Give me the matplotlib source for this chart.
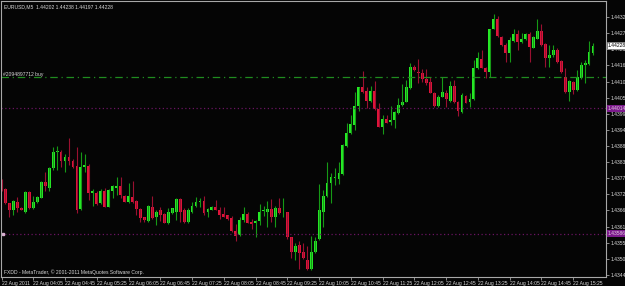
import matplotlib.pyplot as plt
import matplotlib.transforms as mtransforms
import numpy as np
import pandas as pd

symbol = "EURUSD,M5"
opens = [1.43766, 1.43737, 1.43690, 1.43667, 1.43695, 1.43675, 1.43661, 1.43727, 1.43673, 1.43693,
         1.43709, 1.43761, 1.43743, 1.43809, 1.43866, 1.43866, 1.43835, 1.43849, 1.43835, 1.43818,
         1.43669, 1.43815, 1.43818, 1.43726, 1.43726, 1.43690, 1.43730, 1.43678, 1.43730, 1.43743,
         1.43749, 1.43716, 1.43695, 1.43710, 1.43698, 1.43669, 1.43642, 1.43629, 1.43676, 1.43642,
         1.43665, 1.43653, 1.43621, 1.43656, 1.43661, 1.43705, 1.43665, 1.43627, 1.43661, 1.43682,
         1.43694, 1.43698, 1.43659, 1.43667, 1.43676, 1.43667, 1.43653, 1.43648, 1.43641, 1.43595,
         1.43582, 1.43631, 1.43652, 1.43627, 1.43621, 1.43629, 1.43662, 1.43659, 1.43670, 1.43642,
         1.43672, 1.43659, 1.43659, 1.43574, 1.43525, 1.43548, 1.43523, 1.43496, 1.43466, 1.43525,
         1.43568, 1.43661, 1.43715, 1.43758, 1.43777, 1.43773, 1.43790, 1.43886, 1.43929, 1.43957,
         1.44022, 1.44086, 1.44074, 1.44039, 1.44073, 1.44012, 1.43951, 1.43978, 1.43966, 1.43974,
         1.43997, 1.44025, 1.44036, 1.44082, 1.44156, 1.44138, 1.44133, 1.44114, 1.44105, 1.44067,
         1.44023, 1.44053, 1.44067, 1.44040, 1.44090, 1.44036, 1.44002, 1.44056, 1.44034, 1.44044,
         1.44150, 1.44182, 1.44153, 1.44139, 1.44286, 1.44318, 1.44258, 1.44230, 1.44201, 1.44244,
         1.44269, 1.44239, 1.44250, 1.44267, 1.44221, 1.44252, 1.44278, 1.44233, 1.44184, 1.44196,
         1.44213, 1.44175, 1.44122, 1.44070, 1.44105, 1.44076, 1.44116, 1.44161, 1.44165, 1.44202]
highs = [1.43772, 1.43741, 1.43692, 1.43701, 1.43710, 1.43678, 1.43730, 1.43730, 1.43715, 1.43715,
         1.43767, 1.43798, 1.43815, 1.43883, 1.43885, 1.43872, 1.43857, 1.43911, 1.43840, 1.43883,
         1.43864, 1.43857, 1.43823, 1.43739, 1.43730, 1.43737, 1.43741, 1.43737, 1.43752, 1.43781,
         1.43781, 1.43718, 1.43760, 1.43766, 1.43701, 1.43673, 1.43644, 1.43684, 1.43715, 1.43665,
         1.43676, 1.43656, 1.43673, 1.43675, 1.43707, 1.43707, 1.43673, 1.43673, 1.43695, 1.43712,
         1.43707, 1.43715, 1.43673, 1.43681, 1.43701, 1.43676, 1.43676, 1.43650, 1.43647, 1.43618,
         1.43642, 1.43676, 1.43661, 1.43636, 1.43633, 1.43687, 1.43682, 1.43698, 1.43705, 1.43681,
         1.43707, 1.43707, 1.43661, 1.43576, 1.43553, 1.43562, 1.43553, 1.43544, 1.43579, 1.43576,
         1.43755, 1.43735, 1.43832, 1.43792, 1.43809, 1.43832, 1.43891, 1.43963, 1.43991, 1.44071,
         1.44088, 1.44142, 1.44088, 1.44090, 1.44108, 1.44033, 1.43991, 1.43991, 1.44023, 1.44003,
         1.44048, 1.44097, 1.44110, 1.44167, 1.44161, 1.44181, 1.44147, 1.44147, 1.44122, 1.44070,
         1.44059, 1.44119, 1.44076, 1.44108, 1.44110, 1.44040, 1.44065, 1.44059, 1.44067, 1.44178,
         1.44207, 1.44213, 1.44156, 1.44286, 1.44335, 1.44329, 1.44260, 1.44235, 1.44258, 1.44286,
         1.44281, 1.44272, 1.44272, 1.44275, 1.44260, 1.44317, 1.44301, 1.44235, 1.44230, 1.44230,
         1.44218, 1.44178, 1.44150, 1.44112, 1.44108, 1.44144, 1.44173, 1.44178, 1.44243, 1.44238]
lows = [1.43733, 1.43686, 1.43644, 1.43650, 1.43661, 1.43665, 1.43658, 1.43669, 1.43669, 1.43690,
        1.43706, 1.43730, 1.43730, 1.43803, 1.43803, 1.43815, 1.43798, 1.43820, 1.43809, 1.43656,
        1.43667, 1.43798, 1.43701, 1.43681, 1.43684, 1.43687, 1.43676, 1.43676, 1.43707, 1.43718,
        1.43707, 1.43693, 1.43690, 1.43692, 1.43650, 1.43627, 1.43627, 1.43627, 1.43636, 1.43616,
        1.43629, 1.43621, 1.43619, 1.43653, 1.43633, 1.43627, 1.43624, 1.43624, 1.43658, 1.43678,
        1.43676, 1.43650, 1.43644, 1.43665, 1.43665, 1.43636, 1.43642, 1.43633, 1.43593, 1.43562,
        1.43578, 1.43627, 1.43621, 1.43601, 1.43574, 1.43616, 1.43647, 1.43608, 1.43627, 1.43610,
        1.43653, 1.43644, 1.43568, 1.43504, 1.43496, 1.43465, 1.43499, 1.43462, 1.43462, 1.43521,
        1.43565, 1.43610, 1.43712, 1.43692, 1.43752, 1.43756, 1.43786, 1.43883, 1.43925, 1.43940,
        1.44006, 1.44067, 1.44014, 1.44036, 1.44008, 1.43949, 1.43926, 1.43963, 1.43957, 1.43946,
        1.43994, 1.44023, 1.44034, 1.44080, 1.44142, 1.44099, 1.44105, 1.44093, 1.44065, 1.44017,
        1.44019, 1.44051, 1.44019, 1.44036, 1.44033, 1.43987, 1.43999, 1.44031, 1.44017, 1.44042,
        1.44148, 1.44150, 1.44116, 1.44122, 1.44284, 1.44258, 1.44227, 1.44173, 1.44173, 1.44241,
        1.44213, 1.44235, 1.44247, 1.44173, 1.44218, 1.44249, 1.44227, 1.44156, 1.44156, 1.44190,
        1.44169, 1.44133, 1.44065, 1.44040, 1.44062, 1.44074, 1.44114, 1.44099, 1.44161, 1.44197]
closes = [1.43737, 1.43690, 1.43667, 1.43698, 1.43673, 1.43667, 1.43727, 1.43673, 1.43695, 1.43710,
          1.43761, 1.43747, 1.43809, 1.43866, 1.43868, 1.43834, 1.43849, 1.43835, 1.43815, 1.43667,
          1.43815, 1.43820, 1.43726, 1.43730, 1.43687, 1.43730, 1.43678, 1.43735, 1.43747, 1.43750,
          1.43718, 1.43695, 1.43715, 1.43694, 1.43669, 1.43639, 1.43631, 1.43681, 1.43641, 1.43661,
          1.43650, 1.43624, 1.43661, 1.43672, 1.43705, 1.43661, 1.43627, 1.43667, 1.43682, 1.43695,
          1.43697, 1.43658, 1.43669, 1.43676, 1.43667, 1.43650, 1.43644, 1.43635, 1.43595, 1.43578,
          1.43633, 1.43653, 1.43624, 1.43618, 1.43629, 1.43659, 1.43665, 1.43670, 1.43644, 1.43673,
          1.43656, 1.43661, 1.43573, 1.43525, 1.43544, 1.43519, 1.43502, 1.43466, 1.43525, 1.43562,
          1.43667, 1.43715, 1.43760, 1.43778, 1.43780, 1.43792, 1.43889, 1.43931, 1.43960, 1.44022,
          1.44086, 1.44071, 1.44039, 1.44073, 1.44012, 1.43951, 1.43978, 1.43965, 1.43974, 1.44000,
          1.44025, 1.44036, 1.44085, 1.44156, 1.44144, 1.44133, 1.44114, 1.44101, 1.44067, 1.44023,
          1.44053, 1.44070, 1.44044, 1.44090, 1.44036, 1.44006, 1.44059, 1.44033, 1.44045, 1.44152,
          1.44184, 1.44153, 1.44136, 1.44284, 1.44318, 1.44260, 1.44230, 1.44201, 1.44247, 1.44269,
          1.44239, 1.44250, 1.44267, 1.44222, 1.44258, 1.44278, 1.44230, 1.44184, 1.44196, 1.44213,
          1.44173, 1.44139, 1.44070, 1.44108, 1.44076, 1.44122, 1.44161, 1.44170, 1.44205, 1.44228]
times = pd.date_range("2011-08-22 03:25", periods=len(opens), freq="5min")

order_price = 1.44119
order_label = "#2094897712 buy"
level_prices = [1.44014, 1.43586]
price_ticks = [round(1.43445 + 0.00055 * k, 5) for k in range(17)]
footer = "FXDD - MetaTrader, \u00a9 2001-2011 MetaQuotes Software Corp."

plt.rcParams['font.family'] = ['Liberation Sans', 'DejaVu Sans']
fs = 3.6
txt = '#d8d8d8'
bg = '#050505'

o = np.array(opens)
h = np.array(highs)
l = np.array(lows)
c = np.array(closes)
x = np.arange(len(o))
up = c >= o

fig = plt.figure(figsize=(6.25, 2.86), dpi=100, facecolor=bg)
ax = fig.add_axes([1 / 625, 9 / 286, 605 / 625, 276 / 286])
ax.set_facecolor(bg)

# wicks then bodies
ax.vlines(x, l, h, colors=np.where(up, '#169a16', '#9a1030'), linewidth=0.8)
body = np.maximum(np.abs(c - o), 0.000012)
ax.bar(x, body, bottom=np.minimum(o, c), width=0.72,
       color=np.where(up, '#26ea26', '#e0143a'), linewidth=0)

ax.axhline(order_price, color='#1f8c1f', lw=0.9, dashes=(6, 3, 1, 3))
trans = mtransforms.blended_transform_factory(ax.transAxes, ax.transData)
ax.text(0.004, order_price + 0.00003, order_label, transform=trans, color=txt,
        fontsize=fs, va='bottom', ha='left')
for p in level_prices:
    ax.axhline(p, color='#6a1462', lw=0.9, dashes=(1, 2))
    ax.text(1.003, p, f"{p:.5f}", transform=trans, color='#e0c8e0', fontsize=fs,
            va='center', ha='left', clip_on=False,
            bbox=dict(boxstyle='square,pad=0.2', fc='#7c1a8c', ec='none'))
ax.plot([0.3], [level_prices[-1]], marker='s', ms=1.6, color='#d8b0d0', clip_on=False)
ax.text(1.003, closes[-1], f"{closes[-1]:.5f}", transform=trans, color='black',
        fontsize=fs, va='center', ha='left', clip_on=False,
        bbox=dict(boxstyle='square,pad=0.2', fc='white', ec='#808080', lw=0.5))

ax.set_xlim(-0.13, 152.27)
ax.set_ylim(1.43438, 1.44380)

ax.yaxis.tick_right()
ax.set_yticks(price_ticks)
ax.set_yticklabels([f"{p:.5f}" for p in price_ticks])
ticks_x = x[::8]
labels_x = [times[0].strftime("%d %b %Y")] + [t.strftime("%d %b %H:%M") for t in times[8::8]]
ax.set_xticks(ticks_x)
ax.set_xticklabels(labels_x)
for lbl in ax.get_xticklabels():
    lbl.set_ha('left')
ax.tick_params(axis='both', colors='#a0a0a0', labelcolor=txt, labelsize=fs,
               length=2, width=0.6, pad=1.2)

for s in ax.spines.values():
    s.set_color('#a8a8a8')
    s.set_linewidth(0.8)

fig.text(4 / 625, 1 - 7 / 286,
         f"{symbol}  {opens[-1]:.5f} {highs[-1]:.5f} {lows[-1]:.5f} {closes[-1]:.5f}",
         color=txt, fontsize=fs, va='center', ha='left')
fig.text(4 / 625, 1 - 272 / 286, footer, color=txt, fontsize=fs, va='center', ha='left')

fig.savefig('out.png', dpi=100, facecolor=bg)
